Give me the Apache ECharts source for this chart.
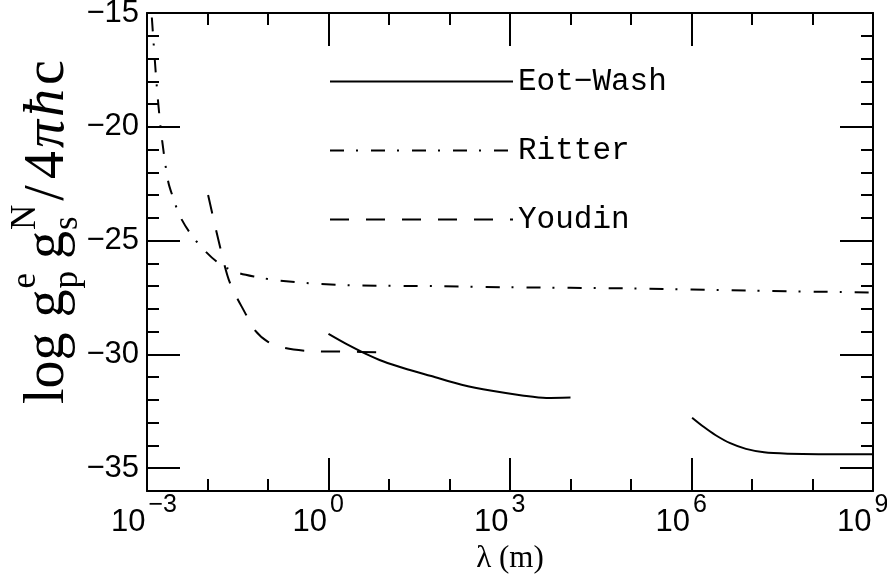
<!DOCTYPE html>
<html>
<head>
<meta charset="utf-8">
<script src="https://cdn.jsdelivr.net/npm/echarts@6/dist/echarts.min.js"></script>
<style>
html, body { margin: 0; padding: 0; background: #fff; }
#chart { width: 887px; height: 577px; }
</style>
</head>
<body>
<div id="chart"></div>
<script>
// x values are log10(lambda / m), y values are log(g_p^e g_s^N / 4 pi hbar c)
const eotWashShortX = [0.0, 0.3, 0.6, 0.9, 1.3, 1.7, 2.2, 2.7, 3.2, 3.6, 4.0]
const eotWashShortY = [-29.1, -29.55, -29.95, -30.3, -30.65, -30.95, -31.33, -31.6, -31.8, -31.91, -31.89]

const eotWashLongX = [6.01, 6.2, 6.4, 6.64, 6.9, 7.2, 7.6, 8.1, 9.0]
const eotWashLongY = [-32.78, -33.18, -33.55, -33.9, -34.15, -34.3, -34.36, -34.38, -34.38]

const ritterX = [-2.92, -2.87, -2.82, -2.75, -2.65, -2.57, -2.46, -2.28, -2.06, -1.81, -1.51, -1.18, -0.83, -0.17, 0.52, 1.83, 3, 5, 7, 9]
const ritterY = [-15.2, -17.1, -18.8, -20.6, -22.4, -23.1, -23.9, -24.7, -25.4, -26.0, -26.4, -26.6, -26.75, -26.9, -26.97, -27.0, -27.05, -27.1, -27.2, -27.28]

const youdinX = [-1.99, -1.79, -1.63, -1.36, -1.22, -1.0, -0.72, -0.31, 0.3, 0.82]
const youdinY = [-23.0, -25.3, -26.85, -28.27, -28.93, -29.45, -29.72, -29.85, -29.88, -29.9]

const legendNames = ['Eot\u2212Wash', 'Ritter', 'Youdin']
const xTickExponents = [-3, 0, 3, 6, 9]
const yMajorTicks = [-35, -30, -25, -20, -15]

const chart = echarts.init(document.getElementById('chart'))

function pairs(xs, ys) {
  return xs.map((x, i) => [x, ys[i]])
}

const black = '#000'
const tickStyle = { color: black, width: 2 }
const minus = v => String(v).replace('-', '\u2212')
const ctx = document.createElement('canvas').getContext('2d')
const textWidth = (t, size, fam, st) => {
  ctx.font = (st || 'normal') + ' ' + size + 'px "' + fam + '"'
  return ctx.measureText(t).width
}

// "10" ends at the tick, the exponent starts there
const baseSize = 31, expSize = 25
const xRich = {}
xTickExponents.forEach((e, i) => {
  const wb = textWidth('10', baseSize, 'Liberation Sans')
  const ws = textWidth(minus(e), expSize, 'Liberation Sans')
  const d = wb - ws
  xRich['b' + i] = { fontFamily: 'Liberation Sans', fontSize: baseSize, color: black, padding: [16, 0, 0, d < 0 ? -d : 0] }
  xRich['s' + i] = { fontFamily: 'Liberation Sans', fontSize: expSize, color: black, padding: [0, d > 0 ? d : 0, 18, 3] }
})

function xAxisOf(pos, showLabel) {
  return {
    type: 'value', position: pos, min: -3, max: 9, interval: 3,
    axisLine: { show: true, onZero: false, lineStyle: tickStyle },
    axisTick: { show: true, inside: true, length: 33, lineStyle: tickStyle },
    minorTick: { show: true, splitNumber: 3, length: 12, lineStyle: tickStyle },
    splitLine: { show: false },
    axisLabel: {
      show: showLabel,
      margin: 0,
      formatter: v => {
        const i = xTickExponents.indexOf(v)
        return '{b' + i + '|10}{s' + i + '|' + minus(v) + '}'
      },
      rich: xRich
    },
    name: showLabel ? '\u03bb (m)' : '',
    nameLocation: 'middle',
    nameGap: 50,
    nameTextStyle: { fontFamily: 'Liberation Serif', fontSize: 31, color: black }
  }
}

function yMinor(pos) {
  return {
    type: 'value', position: pos, min: -36, max: -15, interval: 1,
    axisLine: { show: true, onZero: false, lineStyle: tickStyle },
    axisTick: { show: true, inside: true, length: 12, lineStyle: tickStyle },
    axisLabel: { show: false },
    splitLine: { show: false }
  }
}

function yMajor(pos, showLabel) {
  return {
    type: 'value', position: pos, min: -36, max: -15,
    axisLine: { show: false, onZero: false },
    axisTick: { show: true, inside: true, length: 33, lineStyle: tickStyle, customValues: yMajorTicks },
    axisLabel: {
      show: showLabel, customValues: yMajorTicks, margin: 8,
      fontFamily: 'Liberation Sans', fontSize: 31, color: black,
      formatter: minus
    },
    splitLine: { show: false }
  }
}

// rotated y-axis title with stacked sub/superscripts
function yTitle() {
  const F = 56, S = 35
  const fam = 'Liberation Serif'
  const kids = []
  let x = 0
  const put = (t, size, shift, st, px) => {
    kids.push({
      type: 'text',
      style: {
        text: t, x: px == null ? x : px, y: shift + 0.216 * size,
        fontFamily: fam, fontSize: size, fontStyle: st || 'normal',
        fill: black, textAlign: 'left', textVerticalAlign: 'bottom'
      }
    })
  }
  const word = (t, st, gap) => { put(t, F, 0, st); x += textWidth(t, F, fam, st) + (gap || 0) }
  const stack = (sup, sub, gap) => {
    put(sup, S, -0.5 * F, 'normal', x)
    put(sub, S, 0.25 * F, 'normal', x)
    x += Math.max(textWidth(sup, S, fam), textWidth(sub, S, fam)) + gap
  }
  word('log', null, 15)
  word('g', null, 1); stack('e', 'p', 12)
  word('g', null, 1); stack('N', 's', 4)
  word('/', null, 6)
  word('4', null, 3)
  word('\u03c0', 'italic', 3)
  word('\u0127', 'italic', 4)
  word('c')
  return { type: 'group', x: 64, y: 404, rotation: Math.PI / 2, children: kids }
}

const line = (name, data, dash) => ({
  name, type: 'line', data,
  xAxisIndex: 0, yAxisIndex: 0,
  showSymbol: false, symbol: 'none',
  smooth: 0.3,
  lineStyle: { color: black, width: 2, type: dash },
  itemStyle: { color: black },
  silent: true, animation: false
})

chart.setOption({
  backgroundColor: '#fff',
  animation: false,
  grid: { left: 147, right: 14, top: 13, bottom: 86, containLabel: false, outerBoundsMode: 'none' },
  xAxis: [xAxisOf('bottom', true), xAxisOf('top', false)],
  yAxis: [yMinor('left'), yMajor('left', true), yMinor('right'), yMajor('right', false)],
  legend: {
    data: legendNames,
    orient: 'vertical', left: 329, top: 66, padding: 0,
    itemWidth: 183, itemHeight: 30, itemGap: 38,
    selectedMode: false,
    itemStyle: { color: 'rgba(0,0,0,0)', borderColor: 'rgba(0,0,0,0)', borderWidth: 0 },
    textStyle: { fontFamily: 'Liberation Mono', fontSize: 31, lineHeight: 30, color: black }
  },
  graphic: [yTitle()],
  series: [
    line(legendNames[0], pairs(eotWashShortX, eotWashShortY), 'solid'),
    line(legendNames[0], pairs(eotWashLongX, eotWashLongY), 'solid'),
    line(legendNames[1], pairs(ritterX, ritterY), [14, 12, 2, 13]),
    line(legendNames[2], pairs(youdinX, youdinY), [19, 17])
  ]
})
</script>
</body>
</html>
